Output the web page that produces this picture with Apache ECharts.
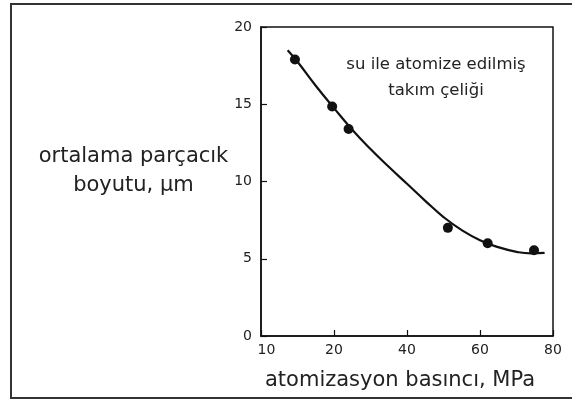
<!DOCTYPE html>
<html>
<head>
<meta charset="utf-8">
<script src="https://cdn.jsdelivr.net/npm/echarts@6/dist/echarts.min.js"></script>
<style>
html,body{margin:0;padding:0;background:#fff;}
#c{width:572px;height:403px;}
</style>
</head>
<body>
<div id="c"></div>
<script>
// Measured points: atomization pressure (MPa) vs mean particle size (µm)
const pressure = [9.3, 19.5, 24.0, 51.2, 62.1, 74.8];
const particleSize = [17.9, 14.85, 13.4, 7.0, 6.0, 5.55];
// Fitted curve
const curveX = [7.3, 10, 15, 20, 25, 30, 35, 40, 45, 50, 55, 60, 65, 70, 74, 77.7];
const curveY = [18.5, 17.75, 16.2, 14.75, 13.35, 12.1, 10.95, 9.85, 8.75, 7.7, 6.85, 6.2, 5.75, 5.45, 5.35, 5.38];
// Tick labels as printed
const xTickValues = [0, 20, 40, 60, 80];
const xTickLabels = ['10', '20', '40', '60', '80'];
const yTickValues = [0, 5, 10, 15, 20];
const yTickLabels = ['0', '5', '10', '15', '20'];
const xTitle = 'atomizasyon basıncı, MPa';
const yTitleLines = ['ortalama parçacık', 'boyutu, µm'];
const noteText = 'su ile atomize edilmiş\ntakım çeliği';

const FONT = 'DejaVu Sans';
const TXT = '#222';

const chart = echarts.init(document.getElementById('c'), null, {renderer: 'canvas'});
chart.setOption({
  animation: false,
  backgroundColor: '#ffffff',
  grid: {left: 261, top: 27, right: 19, bottom: 67, show: true, borderColor: '#111', borderWidth: 1.5, backgroundColor: 'transparent'},
  xAxis: {
    type: 'value', min: 0, max: 80, interval: 20,
    name: xTitle, nameLocation: 'middle', nameGap: 34,
    nameTextStyle: {fontFamily: FONT, fontSize: 21, color: TXT, padding: [0, 14, 0, 0]},
    axisLine: {show: true, lineStyle: {color: '#111', width: 1.5}},
    axisTick: {show: true, inside: true, length: 6, lineStyle: {color: '#111', width: 1.2}},
    splitLine: {show: false},
    axisLabel: {
      fontFamily: FONT, fontSize: 14, color: TXT, margin: 7,
      formatter: function (v) {
        const i = xTickValues.indexOf(v);
        const s = i >= 0 ? xTickLabels[i] : '';
        return v === 0 ? '{o|' + s + '}' : s;
      },
      rich: {o: {fontFamily: FONT, fontSize: 14, color: TXT, padding: [0, 0, 0, 11]}}
    }
  },
  yAxis: {
    type: 'value', min: 0, max: 20, interval: 5,
    name: '{t|' + yTitleLines[0] + '}\n{t|' + yTitleLines[1] + '}\n{g|}',
    nameLocation: 'middle', nameRotate: 0, nameGap: 123,
    nameTextStyle: {
      fontFamily: FONT, fontSize: 21, color: TXT, align: 'center', verticalAlign: 'middle',
      rich: {
        t: {fontFamily: FONT, fontSize: 21, color: TXT, lineHeight: 29, align: 'center'},
        g: {height: 20, lineHeight: 20}
      }
    },
    axisLine: {show: true, lineStyle: {color: '#111', width: 1.5}},
    axisTick: {show: true, inside: true, length: 6, lineStyle: {color: '#111', width: 1.2}},
    splitLine: {show: false},
    axisLabel: {
      fontFamily: FONT, fontSize: 14, color: TXT, margin: 9,
      formatter: function (v) {
        const i = yTickValues.indexOf(v);
        return i >= 0 ? yTickLabels[i] : '';
      }
    }
  },
  graphic: [
    {type: 'rect', silent: true, shape: {x: 11, y: 4, width: 600, height: 394},
     style: {fill: 'none', stroke: '#333', lineWidth: 2}},
    {type: 'text', silent: true, x: 436, y: 78,
     style: {text: noteText, fontFamily: FONT, fontSize: 16.5, fill: TXT, align: 'center', verticalAlign: 'middle', lineHeight: 26}}
  ],
  series: [
    {
      type: 'line', smooth: 0.5, symbol: 'none',
      data: curveX.map((x, i) => [x, curveY[i]]),
      lineStyle: {color: '#111', width: 2.2}
    },
    {
      type: 'scatter', symbol: 'circle', symbolSize: 10,
      data: pressure.map((x, i) => [x, particleSize[i]]),
      itemStyle: {color: '#111', opacity: 1}
    }
  ]
});
</script>
</body>
</html>
